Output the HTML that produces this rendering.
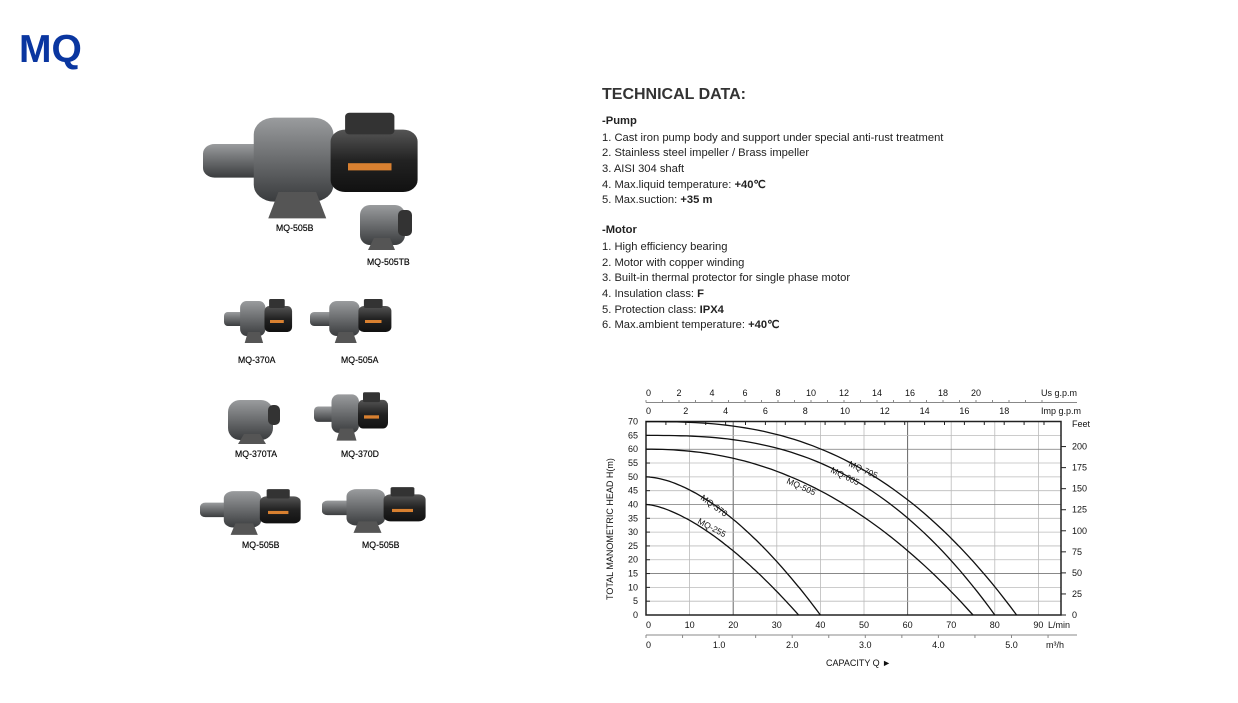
<!DOCTYPE html>
<html><head><meta charset="utf-8"><style>
body{margin:0;background:#fff;width:1238px;height:703px;overflow:hidden;position:relative;font-family:"Liberation Sans",Arial,sans-serif;color:#222}
.mq{position:absolute;left:19px;top:28px;font-size:39px;font-weight:bold;color:#0a36a0;letter-spacing:0px}
.t{position:absolute;left:602px;font-size:11.2px;white-space:nowrap;line-height:13px}
.h{position:absolute;left:602px;top:86px;font-size:16px;font-weight:bold;color:#333}
.lbl{position:absolute;font-size:9.5px;color:#111;white-space:nowrap;transform:scaleX(0.92);transform-origin:left;text-shadow:0 0 0.4px #000}
</style></head><body>
<div class="mq">MQ</div>
<div class="h">TECHNICAL DATA:</div>
<div class="t" style="top:115px;font-weight:bold">-Pump</div>
<div class="t" style="top:132px">1. Cast iron pump body and support under special anti-rust treatment</div>
<div class="t" style="top:147px">2. Stainless steel impeller / Brass impeller</div>
<div class="t" style="top:163px">3. AISI 304 shaft</div>
<div class="t" style="top:179px">4. Max.liquid temperature: <b>+40℃</b></div>
<div class="t" style="top:194px">5. Max.suction: <b>+35 m</b></div>
<div class="t" style="top:224px;font-weight:bold">-Motor</div>
<div class="t" style="top:241px">1. High efficiency bearing</div>
<div class="t" style="top:257px">2. Motor with copper winding</div>
<div class="t" style="top:272px">3. Built-in thermal protector for single phase motor</div>
<div class="t" style="top:288px">4. Insulation class: <b>F</b></div>
<div class="t" style="top:304px">5. Protection class: <b>IPX4</b></div>
<div class="t" style="top:319px">6. Max.ambient temperature: <b>+40℃</b></div>

<div class="lbl" style="left:276px;top:223px">MQ-505B</div>
<div class="lbl" style="left:367px;top:257px">MQ-505TB</div>
<div class="lbl" style="left:238px;top:355px">MQ-370A</div>
<div class="lbl" style="left:341px;top:355px">MQ-505A</div>
<div class="lbl" style="left:235px;top:449px">MQ-370TA</div>
<div class="lbl" style="left:341px;top:449px">MQ-370D</div>
<div class="lbl" style="left:242px;top:540px">MQ-505B</div>
<div class="lbl" style="left:362px;top:540px">MQ-505B</div>

<svg width="1238" height="703" style="position:absolute;left:0;top:0" id="s">
<defs>
<linearGradient id="g" x1="0" y1="0" x2="0" y2="1"><stop offset="0" stop-color="#9a9c9e"/><stop offset=".5" stop-color="#6a6c6e"/><stop offset="1" stop-color="#3a3c3e"/></linearGradient>
<linearGradient id="m" x1="0" y1="0" x2="0" y2="1"><stop offset="0" stop-color="#555"/><stop offset=".5" stop-color="#222"/><stop offset="1" stop-color="#111"/></linearGradient>
<g id="pump">
<rect x="0" y="30" width="45" height="28" rx="8" fill="url(#g)"/>
<rect x="35" y="8" width="55" height="70" rx="14" fill="url(#g)"/>
<path d="M45 92 L85 92 L78 70 L52 70Z" fill="#555"/>
<rect x="88" y="18" width="60" height="52" rx="10" fill="url(#m)"/>
<rect x="98" y="4" width="34" height="18" rx="3" fill="#333"/>
<rect x="100" y="46" width="30" height="6" fill="#d88030"/>
</g>
</defs>
<use href="#pump" transform="translate(203,108) scale(1.45,1.2)"/>
<g transform="translate(360,200)"><rect x="0" y="5" width="45" height="40" rx="10" fill="url(#g)"/><rect x="38" y="10" width="14" height="26" rx="5" fill="#333"/><path d="M8 50 L35 50 L30 38 L14 38Z" fill="#555"/></g>
<use href="#pump" transform="translate(224,297) scale(0.46,0.5)"/>
<use href="#pump" transform="translate(310,297) scale(0.55,0.5)"/>
<g transform="translate(228,390)"><rect x="0" y="10" width="45" height="40" rx="12" fill="url(#g)"/><rect x="40" y="15" width="12" height="20" rx="5" fill="#333"/><path d="M10 54 L38 54 L32 44 L16 44Z" fill="#555"/></g>
<use href="#pump" transform="translate(314,390) scale(0.5,0.55)"/>
<use href="#pump" transform="translate(200,487) scale(0.68,0.52)"/>
<use href="#pump" transform="translate(322,485) scale(0.7,0.52)"/>
<g id="chart" font-family="Liberation Sans,Arial,sans-serif" font-size="9" fill="#111"></g>
</svg>
<script>
var c=document.getElementById('chart'),h='';
function X(q){return 646+q*4.36}function Y(v){return 615-v*2.763}
for(var q=10;q<=90;q+=10){var dk=(q==20||q==60);h+='<line x1="'+X(q)+'" y1="421" x2="'+X(q)+'" y2="615" stroke="'+(dk?'#666':'#bbb')+'" stroke-width="'+(dk?1:0.8)+'"/>';}
for(var v=5;v<70;v+=5){var dk=(v==60||v==40||v==15);h+='<line x1="646" y1="'+Y(v)+'" x2="1061" y2="'+Y(v)+'" stroke="'+(dk?'#777':'#bbb')+'" stroke-width="0.8"/>';}
h+='<rect x="646" y="421.5" width="415" height="193.5" fill="none" stroke="#222" stroke-width="1.5"/>';
for(var v=0;v<=70;v+=5){h+='<text x="638" y="'+(Y(v)+3)+'" text-anchor="end">'+v+'</text>';h+='<line x1="646" y1="'+Y(v)+'" x2="650" y2="'+Y(v)+'" stroke="#222"/>';}
for(var f=0;f<=200;f+=25){var y=615-f*0.3048*2.763;h+='<line x1="1061" y1="'+y+'" x2="1066" y2="'+y+'" stroke="#222"/><text x="1072" y="'+(y+3)+'">'+f+'</text>';}
h+='<text x="1072" y="427">Feet</text>';
for(var q=0;q<=90;q+=10){h+='<text x="'+X(q)+'" y="628" text-anchor="'+(q==0?'start':'middle')+'">'+q+'</text>';}
h+='<text x="1048" y="628">L/min</text>';
h+='<line x1="646" y1="635" x2="1077" y2="635" stroke="#888"/>';
for(var m=0;m<=5.5;m+=0.5){var x=646+m*73.1;h+='<line x1="'+x+'" y1="635" x2="'+x+'" y2="638" stroke="#888"/>';}
['0','1.0','2.0','3.0','4.0','5.0'].forEach(function(s,i){h+='<text x="'+(646+i*73.1)+'" y="648" text-anchor="'+(i==0?'start':'middle')+'">'+s+'</text>';});
h+='<text x="1046" y="648">m³/h</text>';
h+='<text x="826" y="666">CAPACITY  Q ►</text>';
h+='<line x1="646" y1="402.5" x2="1077" y2="402.5" stroke="#888"/>';
for(var g=0;g<=24;g++){var x=646+g*16.5;h+='<line x1="'+x+'" y1="400" x2="'+x+'" y2="402.5" stroke="#888"/>';if(g%2==0&&g<=20)h+='<text x="'+x+'" y="396" text-anchor="'+(g==0?'start':'middle')+'">'+g+'</text>';}
h+='<text x="1041" y="396">Us g.p.m</text>';
for(var g=0;g<=20;g++){var x=646+g*19.9;if(x>1061)break;h+='<line x1="'+x+'" y1="421" x2="'+x+'" y2="425" stroke="#222"/>';if(g%2==0&&g<=18)h+='<text x="'+x+'" y="414" text-anchor="'+(g==0?'start':'middle')+'">'+g+'</text>';}
h+='<text x="1041" y="414">Imp g.p.m</text>';
h+='<text transform="translate(613,600) rotate(-90)" font-size="9">TOTAL MANOMETRIC HEAD  H(m)</text>';
[[70,85,2.6],[65,80,2.7],[60,75,2.2],[50,40,1.7],[40,35,1.55]].forEach(function(a){var p='';for(var i=0;i<=60;i++){var q=a[1]*i/60;var v=a[0]*(1-Math.pow(q/a[1],a[2]));p+=(i?'L':'M')+X(q).toFixed(1)+' '+Y(v).toFixed(1);}h+='<path d="'+p+'" fill="none" stroke="#111" stroke-width="1.3"/>';});
[['MQ-705',848,466,24],['MQ-605',830,472,26],['MQ-505',786,483,24],['MQ-370',700,499,36],['MQ-255',697,523,28]].forEach(function(l){h+='<text x="'+l[1]+'" y="'+l[2]+'" transform="rotate('+l[3]+' '+l[1]+' '+l[2]+')" font-size="8.5">'+l[0]+'</text>';});
c.innerHTML=h;
</script>
</body></html>
